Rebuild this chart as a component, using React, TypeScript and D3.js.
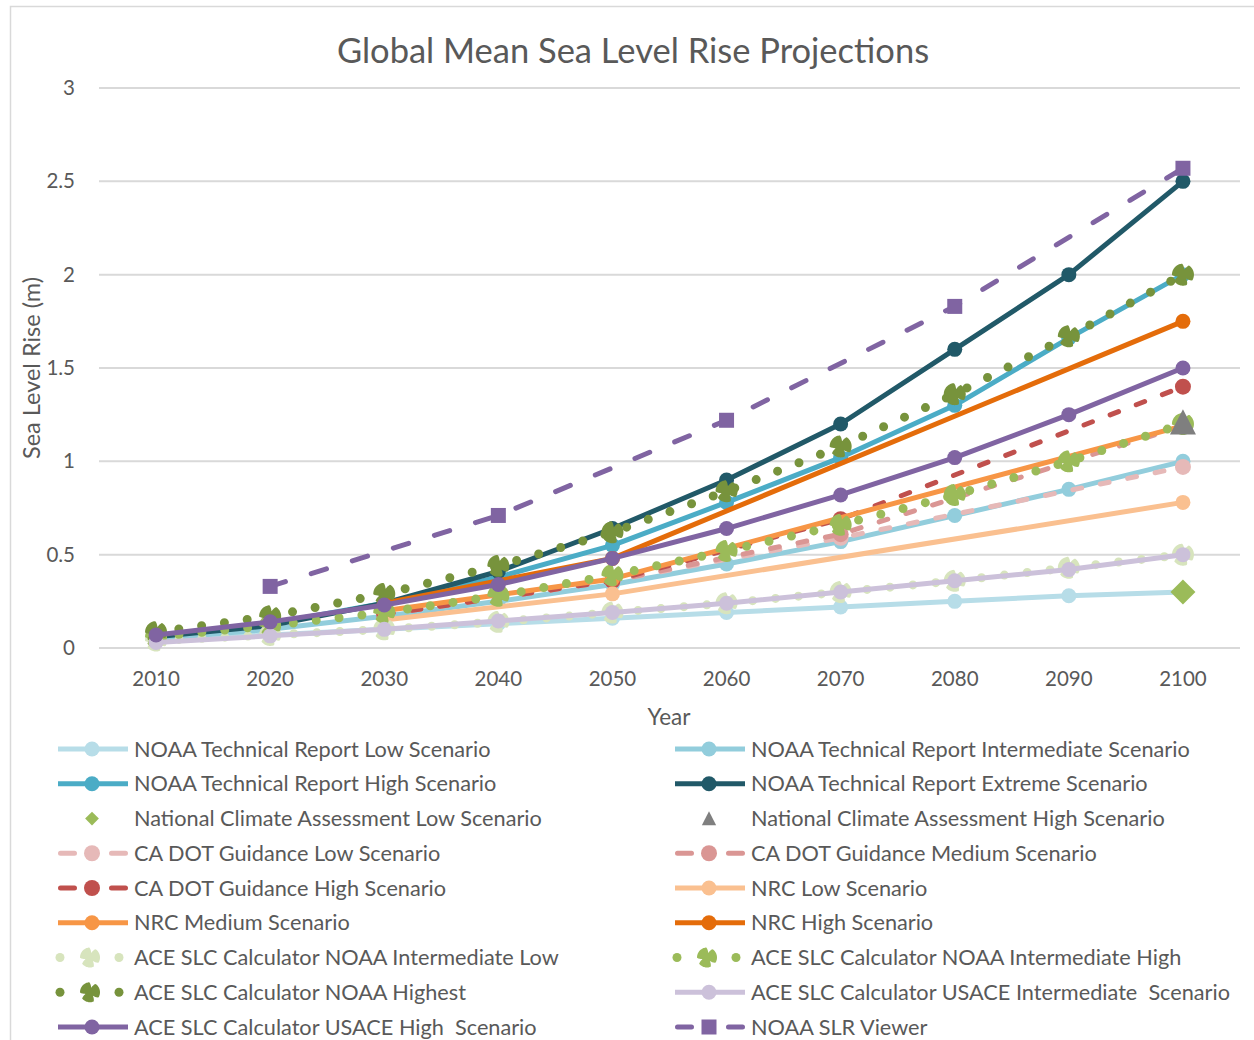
import React from 'react';
import * as d3 from 'd3';

const years = [2010, 2020, 2030, 2040, 2050, 2060, 2070, 2080, 2090, 2100];
const yTicks = [0, 0.5, 1, 1.5, 2, 2.5, 3];

const noaaLow = [0.04, 0.07, 0.1, 0.13, 0.16, 0.19, 0.22, 0.25, 0.28, 0.3];
const noaaInt = [0.05, 0.1, 0.17, 0.25, 0.34, 0.45, 0.57, 0.71, 0.85, 1.0];
const noaaHigh = [0.06, 0.13, 0.24, 0.38, 0.55, 0.78, 1.02, 1.3, 1.66, 2.0];
const noaaExtreme = [0.06, 0.12, 0.24, 0.41, 0.64, 0.9, 1.2, 1.6, 2.0, 2.5];
const ncaLow = [null, null, null, null, null, null, null, null, null, 0.3];
const ncaHigh = [null, null, null, null, null, null, null, null, null, 1.21];
const caLow = [null, null, 0.18, null, 0.36, null, 0.59, null, null, 0.97];
const caMedium = [null, null, 0.18, null, 0.36, null, 0.61, null, null, 1.19];
const caHigh = [null, null, 0.18, null, 0.36, null, 0.69, null, null, 1.4];
const nrcLow = [null, null, 0.15, null, 0.29, null, null, null, null, 0.78];
const nrcMedium = [null, null, 0.2, null, 0.37, null, null, null, null, 1.19];
const nrcHigh = [null, null, 0.24, null, 0.48, null, null, null, null, 1.75];
const aceIntLow = [0.04, 0.07, 0.1, 0.14, 0.19, 0.24, 0.3, 0.36, 0.43, 0.5];
const aceIntHigh = [0.06, 0.12, 0.19, 0.28, 0.39, 0.52, 0.66, 0.82, 1.0, 1.2];
const aceHighest = [0.085, 0.17, 0.29, 0.44, 0.62, 0.84, 1.08, 1.36, 1.67, 2.0];
const usaceInt = [0.03, 0.065, 0.1, 0.145, 0.19, 0.24, 0.3, 0.36, 0.42, 0.5];
const usaceHigh = [0.07, 0.14, 0.23, 0.34, 0.48, 0.64, 0.82, 1.02, 1.25, 1.5];
const slrViewer = [null, 0.33, null, 0.71, null, 1.22, null, 1.83, null, 2.57];

type Kind = 'solid' | 'dash' | 'longdash' | 'dot' | 'none';
type Marker = 'circle' | 'splat' | 'blob' | 'square' | 'diamond' | 'triangle';
interface S { name: string; values: (number | null)[]; color: string; kind: Kind; marker: Marker; top?: boolean }

const series: S[] = [
  { name: 'NOAA Technical Report Low Scenario', values: noaaLow, color: '#b7dde8', kind: 'solid', marker: 'circle' },
  { name: 'NOAA Technical Report Intermediate Scenario', values: noaaInt, color: '#92cddc', kind: 'solid', marker: 'circle' },
  { name: 'NOAA Technical Report High Scenario', values: noaaHigh, color: '#4bacc6', kind: 'solid', marker: 'circle' },
  { name: 'NOAA Technical Report Extreme Scenario', values: noaaExtreme, color: '#215968', kind: 'solid', marker: 'circle' },
  { name: 'National Climate Assessment Low Scenario', values: ncaLow, color: '#9bbb59', kind: 'none', marker: 'diamond', top: true },
  { name: 'National Climate Assessment High Scenario', values: ncaHigh, color: '#7f7f7f', kind: 'none', marker: 'triangle', top: true },
  { name: 'CA DOT Guidance Low Scenario', values: caLow, color: '#e6b9b8', kind: 'dash', marker: 'blob' },
  { name: 'CA DOT Guidance Medium Scenario', values: caMedium, color: '#da9694', kind: 'dash', marker: 'blob' },
  { name: 'CA DOT Guidance High Scenario', values: caHigh, color: '#c0504d', kind: 'dash', marker: 'blob' },
  { name: 'NRC Low Scenario', values: nrcLow, color: '#fac090', kind: 'solid', marker: 'circle' },
  { name: 'NRC Medium Scenario', values: nrcMedium, color: '#f79646', kind: 'solid', marker: 'circle' },
  { name: 'NRC High Scenario', values: nrcHigh, color: '#e46c0a', kind: 'solid', marker: 'circle' },
  { name: 'ACE SLC Calculator NOAA Intermediate Low', values: aceIntLow, color: '#d7e4bd', kind: 'dot', marker: 'splat' },
  { name: 'ACE SLC Calculator NOAA Intermediate High', values: aceIntHigh, color: '#9bbb59', kind: 'dot', marker: 'splat' },
  { name: 'ACE SLC Calculator NOAA Highest', values: aceHighest, color: '#77933c', kind: 'dot', marker: 'splat' },
  { name: 'ACE SLC Calculator USACE Intermediate  Scenario', values: usaceInt, color: '#ccc1da', kind: 'solid', marker: 'circle' },
  { name: 'ACE SLC Calculator USACE High  Scenario', values: usaceHigh, color: '#8064a2', kind: 'solid', marker: 'circle' },
  { name: 'NOAA SLR Viewer', values: slrViewer, color: '#8064a2', kind: 'longdash', marker: 'square' },
];

const W = 1254, H = 1040;
const x = d3.scaleBand<number>().domain(years).range([99, 1240]);
const xc = (yr: number) => (x(yr) as number) + x.bandwidth() / 2;
const y = d3.scaleLinear().domain([0, 3]).range([648, 88]);
const FONT = 'Lato, "Open Sans", sans-serif';
const TXT = '#595959';
const LW = 5;

function splatPath(r: number) {
  const notches = [15, 140, 250];
  const pts: [number, number][] = [];
  for (let a = 0; a < 360; a += 4) {
    let rr = r;
    for (const n of notches) {
      const d = Math.abs(((a - n + 540) % 360) - 180);
      if (d < 18) rr = Math.min(rr, r * (0.45 + 0.55 * (d / 18)));
    }
    pts.push([(a * Math.PI) / 180, rr]);
  }
  return d3.lineRadial().curve(d3.curveLinearClosed)(pts) as string;
}

function dashFor(kind: Kind) {
  if (kind === 'dash') return '9 19';
  if (kind === 'longdash') return '16 27';
  if (kind === 'dot') return '0 23';
  return undefined;
}

function MarkerShape({ m, cx, cy, color, legend }: { m: Marker; cx: number; cy: number; color: string; legend?: boolean }) {
  const k = legend ? 0.55 : 1;
  switch (m) {
    case 'circle':
      return <circle cx={cx} cy={cy} r={7.5} fill={color} />;
    case 'blob':
      return <circle cx={cx} cy={cy} r={8} fill={color} />;
    case 'square':
      return <rect x={cx - 7.5} y={cy - 7.5} width={15} height={15} fill={color} />;
    case 'diamond': {
      const s = 12.5 * k;
      return <path d={`M${cx},${cy - s}L${cx + s},${cy}L${cx},${cy + s}L${cx - s},${cy}Z`} fill={color} />;
    }
    case 'triangle': {
      const s = 13 * k;
      return <path d={`M${cx},${cy - s}L${cx + s},${cy + s * 0.95}L${cx - s},${cy + s * 0.95}Z`} fill={color} />;
    }
    case 'splat':
      return <path d={splatPath(legend ? 10 : 11)} transform={`translate(${cx},${cy})`} fill={color} />;
  }
}

function SeriesMarks({ s }: { s: S }) {
  const pts = years.map((yr, i) => ({ yr, v: s.values[i] })).filter(d => d.v !== null) as { yr: number; v: number }[];
  const line = d3.line<{ yr: number; v: number }>().x(d => xc(d.yr)).y(d => y(d.v));
  const dash = dashFor(s.kind);
  return (
    <g>
      {s.kind !== 'none' && (
        <path d={line(pts) as string} fill="none" stroke={s.color} strokeWidth={s.kind === 'dot' ? 9 : LW}
          strokeDasharray={dash} strokeLinecap={s.kind === 'solid' ? 'butt' : 'round'} strokeLinejoin="round" />
      )}
      {pts.map(d => <MarkerShape key={d.yr} m={s.marker} cx={xc(d.yr)} cy={y(d.v)} color={s.color} />)}
    </g>
  );
}

function LegendItem({ s, lx, ly }: { s: S; lx: number; ly: number }) {
  let mx = lx + 34;
  let lineEl: React.ReactNode = null;
  if (s.kind === 'solid') lineEl = <line x1={lx} x2={lx + 70} y1={ly} y2={ly} stroke={s.color} strokeWidth={LW} />;
  else if (s.kind === 'dash' || s.kind === 'longdash')
    lineEl = <line x1={lx + 2.5} x2={lx + 67.5} y1={ly} y2={ly} stroke={s.color} strokeWidth={LW} strokeLinecap="round" strokeDasharray="14 37" />;
  else if (s.kind === 'dot') {
    mx = lx + 32;
    lineEl = (
      <g fill={s.color}>
        <circle cx={lx + 2} cy={ly} r={4.5} />
        <circle cx={lx + 61} cy={ly} r={4.5} />
      </g>
    );
  }
  return (
    <g>
      {lineEl}
      <MarkerShape m={s.marker} cx={mx} cy={ly} color={s.color} legend />
      <text x={lx + 76} y={ly + 7.5} fontSize={21.7} fill={TXT} fontFamily={FONT} style={{ whiteSpace: 'pre' }}>{s.name}</text>
    </g>
  );
}

export default function App() {
  const ordered = [...series.filter(s => !s.top), ...series.filter(s => s.top)];
  return (
    <svg width={W} height={H} style={{ position: 'absolute', left: 0, top: 0, background: '#fff' }}>
      <rect x={0} y={0} width={W} height={H} fill="#fff" />
      <rect x={10.5} y={6.5} width={1300} height={1100} fill="#fff" stroke="#d9d9d9" strokeWidth={1.5} />
      <text x={633} y={63} textAnchor="middle" fontSize={34.5} fill={TXT} fontFamily={FONT}>Global Mean Sea Level Rise Projections</text>
      {yTicks.map(t => (
        <g key={t}>
          <line x1={99} x2={1240} y1={y(t)} y2={y(t)} stroke="#d9d9d9" strokeWidth={2} />
          <text x={75} y={y(t) + 7} textAnchor="end" fontSize={20.5} fill={TXT} fontFamily={FONT}>{t}</text>
        </g>
      ))}
      {years.map(yr => (
        <text key={yr} x={xc(yr)} y={686} textAnchor="middle" fontSize={20.5} fill={TXT} fontFamily={FONT}>{yr}</text>
      ))}
      <text x={669} y={725} textAnchor="middle" fontSize={22.5} fill={TXT} fontFamily={FONT}>Year</text>
      <text transform="translate(40,368) rotate(-90)" textAnchor="middle" fontSize={23.5} fill={TXT} fontFamily={FONT}>Sea Level Rise (m)</text>
      {ordered.map(s => <SeriesMarks key={s.name} s={s} />)}
      {series.map((s, i) => (
        <LegendItem key={s.name} s={s} lx={i % 2 === 0 ? 58 : 675} ly={749 + Math.floor(i / 2) * 34.75} />
      ))}
    </svg>
  );
}
